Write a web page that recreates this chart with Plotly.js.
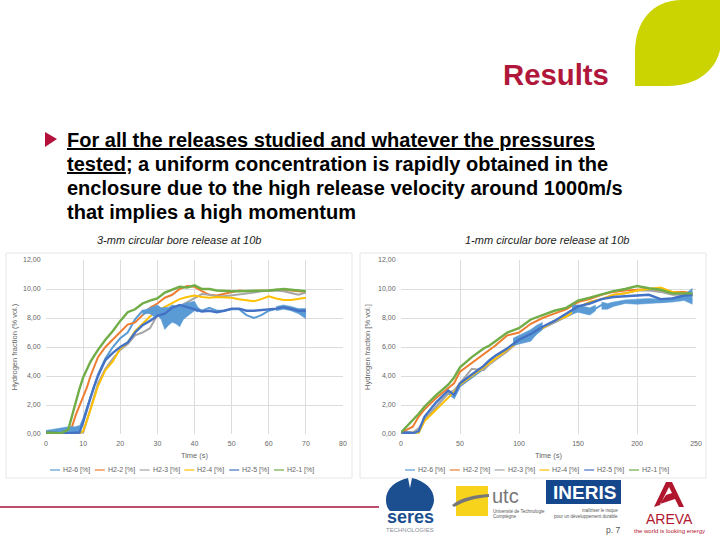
<!DOCTYPE html>
<html><head><meta charset="utf-8">
<script src="https://cdn.plot.ly/plotly-3.0.1.min.js"></script>
<style>html,body{margin:0;padding:0;background:#fff}#c{width:720px;height:540px}</style>
</head><body><div id="c"></div>
<script>
const seriesNames=['H2-6 [%]','H2-2 [%]','H2-3 [%]','H2-4 [%]','H2-5 [%]','H2-1 [%]'];
const seriesColors=['#5b9bd5','#ed7d31','#a5a5a5','#ffc000','#4472c4','#70ad47'];

const tA=[0,2,4,6,7,8,9,10,11,12,13,14,16,18,20,22,24,26,28,30,32,34,36,38,40,42,44,46,48,50,52,54,56,58,60,62,64,66,68,70];
const a6=[0.15,0.2,0.3,0.35,0.3,0.3,0.4,1.0,1.8,2.6,3.4,4.1,5.2,6.0,6.6,7.0,7.9,8.5,8.5,8.5,8.2,8.3,8.3,8.6,8.8,8.5,8.7,8.5,8.5,8.6,8.6,8.2,8.0,8.2,8.5,8.6,8.75,8.7,8.5,8.3];
const a2=[0.1,0.05,0.05,0.05,0.5,1.3,1.9,2.5,3.2,4.0,4.7,5.3,6.0,6.5,7.0,7.55,7.7,8.2,8.7,9.0,9.4,9.6,10.0,10.2,10.15,9.85,9.6,9.55,9.65,9.75,9.9,9.85,9.85,9.85,9.9,9.95,9.95,9.9,9.85,9.8];
const a3=[0.05,0.05,0.05,0.05,0.05,0.05,0.05,0.1,0.9,1.8,2.7,3.5,4.5,5.2,5.8,6.2,6.8,7.0,7.3,8.2,8.5,8.7,8.8,9.1,9.4,9.65,9.6,9.5,9.5,9.55,9.6,9.7,9.75,9.85,9.9,9.9,9.85,9.75,9.6,9.75];
const a4=[0.1,0.05,0.05,0.05,0.05,0.05,0.05,0.2,0.9,1.7,2.5,3.3,4.4,5.0,5.9,6.3,7.1,7.6,8.1,8.5,8.75,9.0,9.3,9.45,9.55,9.45,9.4,9.45,9.45,9.4,9.3,9.2,9.15,9.3,9.5,9.35,9.25,9.25,9.35,9.4];
const a5=[0.1,0.05,0.05,0.05,0.05,0.05,0.1,0.8,1.7,2.5,3.3,4.0,5.1,5.6,6.0,6.3,7.0,7.5,7.8,8.15,8.3,8.7,8.9,8.75,8.6,8.45,8.5,8.4,8.5,8.65,8.65,8.5,8.5,8.55,8.55,8.65,8.75,8.65,8.5,8.5];
const a1=[0.1,0.05,0.05,0.3,1.3,2.2,3.1,3.9,4.5,5.0,5.4,5.8,6.5,7.1,7.8,8.4,8.6,9.0,9.2,9.35,9.75,9.95,10.15,10.1,10.25,10.0,10.0,9.9,9.85,9.85,9.85,9.85,9.85,9.85,9.9,9.95,10.0,9.95,9.9,9.85];
// spread of the H2-6 signal
const bandA1x=[0,2,4,6,8,9], bandA1low=[0,0,0.05,0.05,0.05,0.1], bandA1up=[0.25,0.35,0.45,0.5,0.5,0.6];
const bandA2x=[26,27,28,29,30,31,32,33,34,35,36,37,38,39,40,41];
const bandA2low=[8.2,8.3,8.3,8.1,8.2,7.9,7.2,7.5,7.7,7.6,7.4,7.9,8.1,8.3,8.5,8.4];
const bandA2up=[8.5,8.6,8.7,8.85,8.9,8.7,8.7,8.75,8.9,8.85,8.9,9.0,9.05,9.1,9.15,8.7];
const bandA3x=[62,64,66,68,70], bandA3low=[8.5,8.6,8.5,8.3,7.95], bandA3up=[8.8,8.9,8.8,8.65,8.65];

const tB=[0,10,15,20,30,40,45,50,60,70,75,80,90,100,110,120,130,140,150,160,170,180,190,200,210,220,230,240,247];
const b6=[0.15,0.1,0.1,1.0,1.9,2.8,2.5,3.3,3.9,4.5,5.0,5.4,5.9,6.3,6.6,7.3,7.7,8.1,8.5,8.4,8.9,8.9,9.1,9.1,9.15,9.1,9.2,9.4,9.2];
const b2=[0.1,0.5,1.2,1.7,2.5,3.2,3.5,4.3,4.9,5.5,5.8,6.1,6.8,7.0,7.6,8.0,8.3,8.6,9.1,9.3,9.6,9.8,9.9,9.95,10.0,9.9,9.8,9.8,9.7];
const b3=[0.05,0.1,0.4,1.0,1.9,2.8,3.0,3.5,4.5,4.4,4.8,5.1,5.7,6.4,6.9,7.3,7.7,8.1,8.7,9.1,9.3,9.6,9.7,9.9,9.9,9.8,9.6,9.6,9.6];
const b4=[0.05,0.05,0.1,0.9,1.7,2.5,2.9,3.4,4.0,4.6,4.9,5.2,5.8,6.4,6.9,7.3,7.8,8.1,8.7,9.1,9.3,9.6,9.7,9.9,10.0,10.1,9.8,9.7,9.5];
const b5=[0.1,0.05,0.2,1.2,2.2,3.0,2.7,3.5,4.1,4.7,5.1,5.4,5.9,6.5,6.9,7.4,7.8,8.3,8.8,9.0,9.3,9.45,9.5,9.55,9.6,9.3,9.35,9.55,9.6];
const b1=[0.1,0.95,1.4,1.9,2.7,3.4,3.9,4.6,5.3,5.9,6.1,6.4,7.0,7.3,7.9,8.2,8.5,8.7,9.2,9.4,9.65,9.85,10.0,10.2,10.05,9.95,9.7,9.7,9.7];
const bandB1x=[95,100,105,110,115,120], bandB1low=[6.1,6.2,6.25,6.4,6.9,7.2], bandB1up=[6.6,6.8,7.0,7.2,7.5,7.7];
const bandB2x=[145,150,155,160,165], bandB2low=[8.3,8.4,8.3,8.2,8.5], bandB2up=[8.9,8.9,8.8,8.7,8.9];
const bandB3x=[170,175,180,190,200,210,220,230,240,247], bandB3low=[8.6,8.6,8.8,9.0,8.95,9.0,9.0,9.1,9.2,8.95], bandB3up=[9.1,9.0,9.1,9.25,9.3,9.35,9.3,9.4,9.6,10.05];

const yTicks=[0,2,4,6,8,10,12];
const xTicksA=[0,10,20,30,40,50,60,70,80];
const xTicksB=[0,50,100,150,200,250];

const W=720,H=540,px=x=>x/W,py=y=>1-y/H;
const pathOf=s=>s.replace(/(-?[\d.]+) (-?[\d.]+)/g,(m,a,b)=>px(+a).toFixed(5)+' '+py(+b).toFixed(5));
const poly=(s,fill)=>({type:'path',xref:'paper',yref:'paper',layer:'below',path:pathOf(s),fillcolor:fill,line:{width:0}});
const rect=(x0,y0,x1,y1,fill,line)=>({type:'rect',xref:'paper',yref:'paper',layer:'below',x0:px(x0),x1:px(x1),y0:py(y1),y1:py(y0),fillcolor:fill,line:line?{color:line,width:1}:{width:0}});
const seg=(x0,y0,x1,y1,color,width)=>({type:'line',xref:'paper',yref:'paper',layer:'below',x0:px(x0),x1:px(x1),y0:py(y0),y1:py(y1),line:{color,width}});
const txt=(text,x,y,size,color,o={})=>Object.assign({xref:'paper',yref:'paper',x:px(x),y:py(y),text,showarrow:false,xanchor:'left',yanchor:'middle',font:{size,color,family:'Liberation Sans, Arial, sans-serif'}},o);

const traces=[];
function addBand(x,low,up,xa,ya){
  traces.push({type:'scatter',mode:'lines',x,y:low,xaxis:xa,yaxis:ya,showlegend:false,line:{width:0.5,color:seriesColors[0]}});
  traces.push({type:'scatter',mode:'lines',x,y:up,xaxis:xa,yaxis:ya,showlegend:false,fill:'tonexty',fillcolor:seriesColors[0],line:{width:0.5,color:seriesColors[0]}});
}
function addGroup(t,vals,xa,ya){
  vals.forEach((v,i)=>traces.push({type:'scatter',mode:'lines',x:t,y:v,xaxis:xa,yaxis:ya,name:seriesNames[i],showlegend:false,
    line:{color:seriesColors[i],width:i===4||i===5?2.4:2}}));
}
addGroup(tA,[a6,a2,a3,a4],'x','y');
addBand(bandA1x,bandA1low,bandA1up,'x','y');
addBand(bandA2x,bandA2low,bandA2up,'x','y');
addBand(bandA3x,bandA3low,bandA3up,'x','y');
[[a5,4],[a1,5]].forEach(([v,i])=>traces.push({type:'scatter',mode:'lines',x:tA,y:v,xaxis:'x',yaxis:'y',name:seriesNames[i],showlegend:false,line:{color:seriesColors[i],width:2.4}}));
addGroup(tB,[b6,b2,b3,b4],'x2','y2');
addBand(bandB1x,bandB1low,bandB1up,'x2','y2');
addBand(bandB2x,bandB2low,bandB2up,'x2','y2');
addBand(bandB3x,bandB3low,bandB3up,'x2','y2');
[[b5,4],[b1,5]].forEach(([v,i])=>traces.push({type:'scatter',mode:'lines',x:tB,y:v,xaxis:'x2',yaxis:'y2',name:seriesNames[i],showlegend:false,line:{color:seriesColors[i],width:2.4}}));

const legendShapes=[],legendTexts=[];
[[50,470],[405,470]].forEach(([x0,y])=>seriesNames.forEach((n,i)=>{
  const x=x0+i*44.8;
  legendShapes.push(seg(x,y,x+10,y,seriesColors[i],1.2));
  legendTexts.push(txt(n,x+11,y,7,'#666'));
}));

const grid={showgrid:true,gridcolor:'#dcdcdc',gridwidth:1,zeroline:false,showline:false,ticks:'outside',ticklen:3,tickcolor:'rgba(0,0,0,0)',tickfont:{size:7,color:'#666',family:'Liberation Sans'}};
const axT=t=>({text:t,font:{size:7.5,color:'#666',family:'Liberation Sans'}});
const layout={width:W,height:H,margin:{l:0,r:0,t:0,b:0},paper_bgcolor:'#fff',plot_bgcolor:'rgba(0,0,0,0)',separators:', ',showlegend:false,
  xaxis:Object.assign({},grid,{domain:[px(46),px(343)],range:[0,80],tickvals:xTicksA,ticktext:xTicksA.map(String),anchor:'y',title:Object.assign(axT('Time (s)'),{standoff:6})}),
  yaxis:Object.assign({},grid,{domain:[py(434),py(260)],range:[0,12],tickvals:yTicks,tickformat:'.2f',anchor:'x',title:Object.assign(axT('Hydrogen fraction (% vol.)'),{standoff:4})}),
  xaxis2:Object.assign({},grid,{domain:[px(401),px(696)],range:[0,250],tickvals:xTicksB,ticktext:xTicksB.map(String),anchor:'y2',title:Object.assign(axT('Time (s)'),{standoff:6})}),
  yaxis2:Object.assign({},grid,{domain:[py(434),py(260)],range:[0,12],tickvals:yTicks,tickformat:'.2f',anchor:'x2',title:Object.assign(axT('Hydrogen fraction [% vol.]'),{standoff:6})}),
  hovermode:false,
  shapes:[
    poly('M 635 86 L 635 52 C 635 22 652 0 682 0 L 720 0 L 720 50 C 715 72 695 86 668 86 Z','#cbd300'),
    poly('M 45 132 L 57 139 L 45 147 Z','#b5103c'),
    rect(6,253,352,478,'#fff','#e6e6e6'),
    rect(360,253,706,478,'#fff','#e6e6e6'),
    seg(0,507,379,507,'#a5143a',1.5),
    poly('M 386 500 C 386 488 396 481 408 478 L 410 488 L 412 478 C 425 481 434 489 434 500 C 434 504 432 508 430 511 L 390 511 C 387 508 386 504 386 500 Z','#1b4f8f'),
    rect(456,486,488,516,'#f7d31c'),
    poly('M 452 505 C 462 497 475 495 489 494 L 489 497 C 475 498 465 501 454 507 Z','#777'),
    rect(546,480,621,504,'#15478c'),
    poly('M 666 482 L 672 482 L 684 507 L 679 507 L 675 499 L 660 504 L 666 495 L 672 493 L 669 487 L 660 505 L 654 507 Z','#b0172f')
  ].concat(legendShapes),
  annotations:[
    txt('Results',611,74,29,'#b0173a',{xanchor:'right',font:{size:29.3,color:'#b0173a',family:'Liberation Sans',weight:700}}),
    txt('<b><u>For all the releases studied and whatever the pressures</u></b>',65,140,20,'#000'),
    txt('<b><u>tested</u>; a uniform concentration is rapidly obtained in the</b>',65,164,20,'#000'),
    txt('<b>enclosure due to the high release velocity around 1000m/s</b>',65,188,20,'#000'),
    txt('<b>that implies a high momentum</b>',65,212,20,'#000'),
    txt('<i>3-mm circular bore release at 10b</i>',179,240,11,'#222',{xanchor:'center'}),
    txt('<i>1-mm circular bore release at 10b</i>',547,240,11,'#222',{xanchor:'center'}),
    txt('<b>seres</b>',410,517,18,'#1b4f8f',{xanchor:'center'}),
    txt('TECHNOLOGIES',410,530,6,'#8a9099',{xanchor:'center'}),
    txt('utc',490,496,20,'#777'),
    txt('Université de Technologie',491,511,4.5,'#555'),
    txt('Compiègne',491,516,4.5,'#555'),
    txt('<b>INERIS</b>',584,492,19,'#fff',{xanchor:'center'}),
    txt('maîtriser le risque',620,510,4.5,'#555',{xanchor:'right'}),
    txt('pour un développement durable',620,516,4.5,'#555',{xanchor:'right'}),
    txt('p. 7',622,530,8.5,'#555',{xanchor:'right'}),
    txt('AREVA',669,519,14,'#b0172f',{xanchor:'center'}),
    txt('the world is looking energy',669,531,6,'#b0172f',{xanchor:'center'})
  ].concat(legendTexts)
};
Plotly.newPlot('c',traces,layout,{staticPlot:true,displayModeBar:false});
</script></body></html>
